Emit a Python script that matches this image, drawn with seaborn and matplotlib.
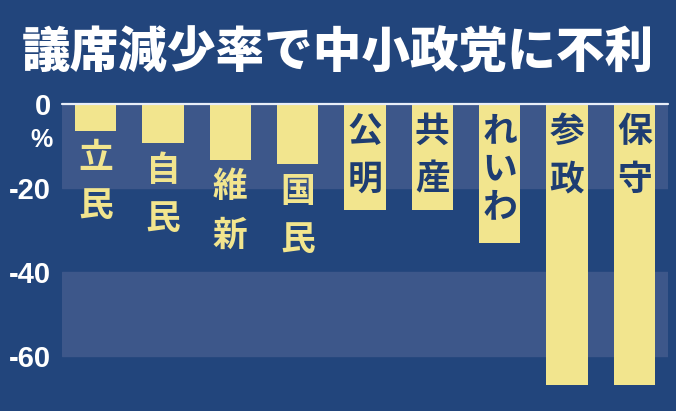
import matplotlib.pyplot as plt
import pandas as pd
import seaborn as sns

# data (seat reduction rate, %)
parties = ['立民', '自民', '維新', '国民', '公明', '共産', 'れいわ', '参政', '保守']
rates = [-6.4, -9.3, -13.3, -14.3, -25.2, -25.2, -33.1, -66.9, -66.9]
label_inside = [False, False, False, False, True, True, True, True, True]
yticks = [0, -20, -40, -60]
title = '議席減少率で中小政党に不利'

bg = '#22457c'
band = '#3d578a'
bar_col = '#f2e58e'
ink = '#1e3d72'

df = pd.DataFrame({'party': parties, 'rate': rates})

sns.set_style('dark')
plt.rcParams['font.family'] = ['Noto Sans CJK JP', 'DejaVu Sans']

fig = plt.figure(figsize=(6.76, 4.11), dpi=100, facecolor=bg)
ax = fig.add_axes([62 / 676, 0, 606 / 676, 308 / 411])
ax.set_facecolor(bg)

ax.axhspan(-20, 0, color=band, zorder=0)
ax.axhspan(-60, -40, color=band, zorder=0)

sns.barplot(data=df, x='party', y='rate', color=bar_col, saturation=1,
            width=0.61, ax=ax, zorder=2, edgecolor='none')

ax.set_xlim(-0.5, 8.5)
ax.set_ylim(-73.1, 0.25)
ax.axhline(0, color='#e8eef8', lw=1.6, zorder=3, clip_on=False)

for s in ax.spines.values():
    s.set_visible(False)
ax.grid(False)
ax.set_xlabel('')
ax.set_ylabel('')
ax.set_xticks([])
ax.set_yticks(yticks)
ax.set_yticklabels([str(t) for t in yticks])
ax.tick_params(axis='y', length=0, pad=8, labelcolor='white')
for t in ax.get_yticklabels():
    t.set_family(['Liberation Sans', 'DejaVu Sans'])
    t.set_fontsize(21)
    t.set_fontweight('bold')
ax.text(-0.64, -8.6, '%', ha='right', va='center', color='white',
        fontsize=18, fontweight='bold',
        family=['Liberation Sans', 'DejaVu Sans'])

# vertical party names, one character per line
for i, (name, val, inside) in enumerate(zip(parties, rates, label_inside)):
    pitch = 38 if name == 'れいわ' else 48
    anchor_y = 0 if inside else val
    col = ink if inside else bar_col
    for k, ch in enumerate(name):
        ax.annotate(ch, xy=(i, anchor_y), xytext=(0, -(27 + k * pitch)),
                    textcoords='offset pixels', ha='center', va='center',
                    color=col, fontsize=25, fontweight='bold', zorder=4)

fig.text(0.5, 1 - 53 / 411, title, ha='center', va='center', color='white',
         fontsize=35, fontweight='heavy')

fig.savefig('out.png', dpi=100, facecolor=bg)
